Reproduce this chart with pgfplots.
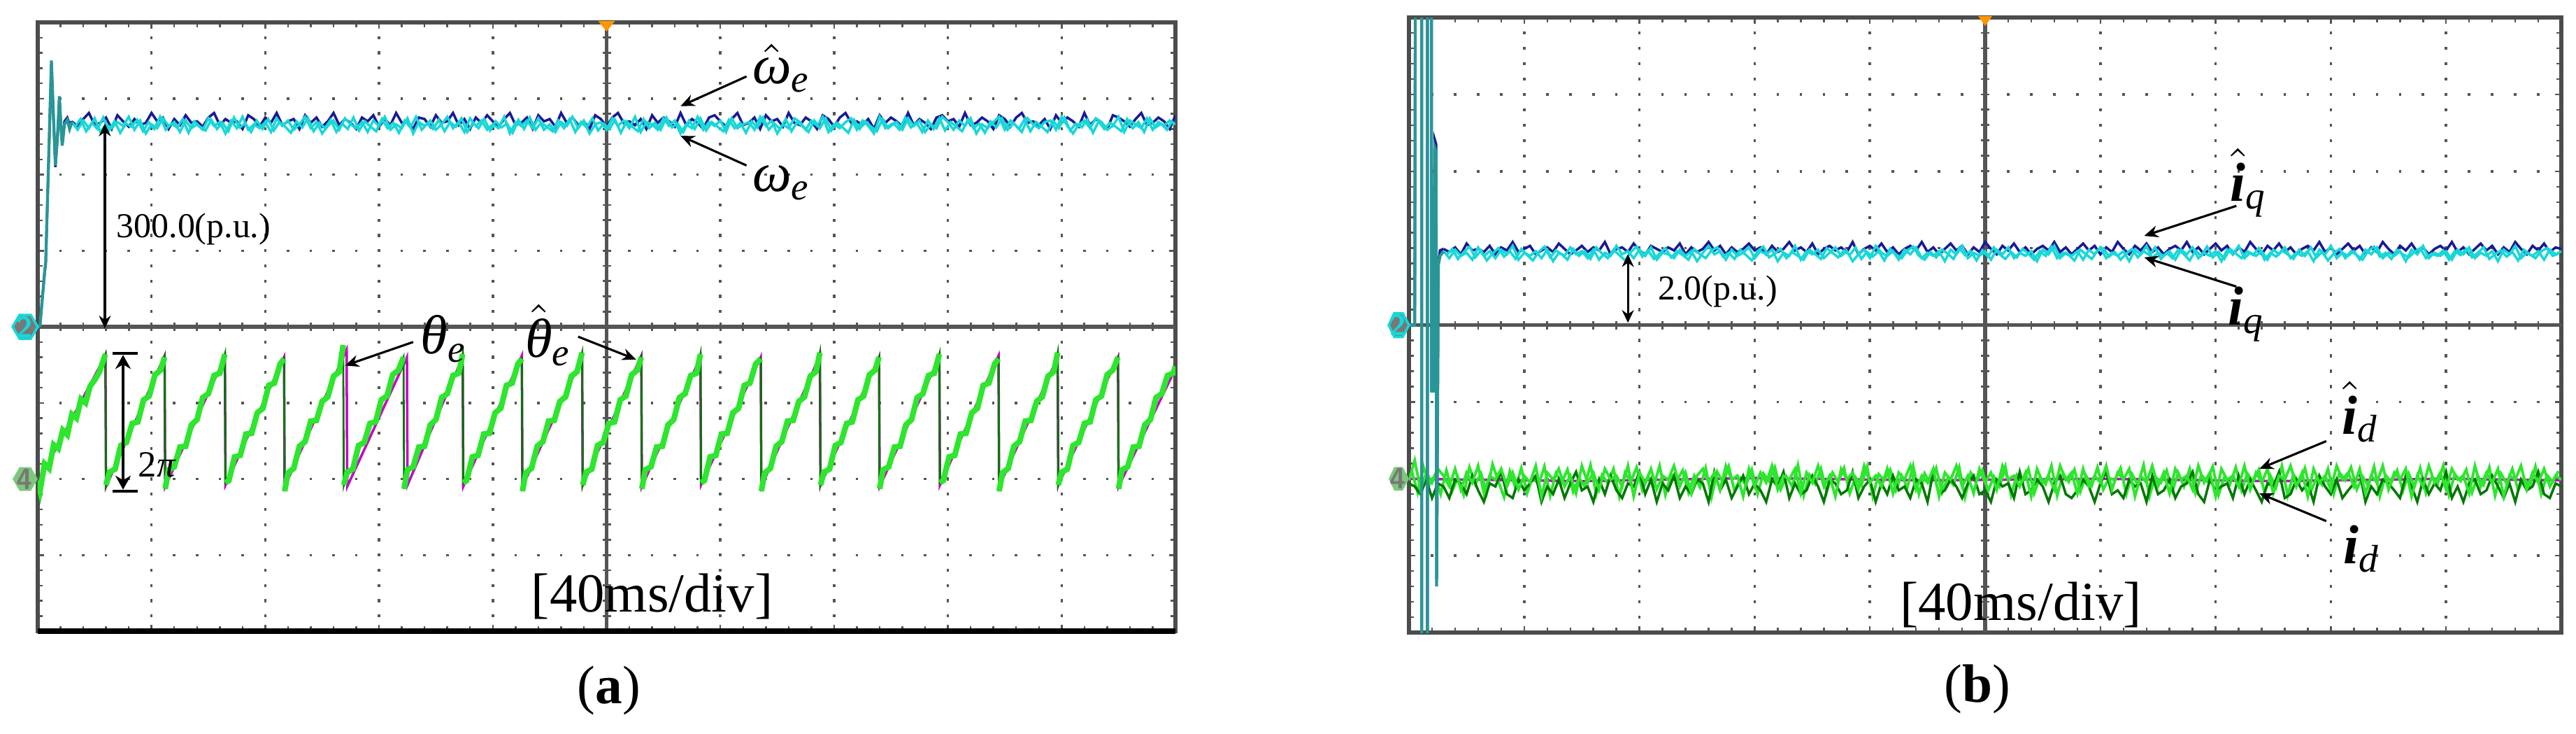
\documentclass[border=0pt]{standalone}
\usepackage{amsmath}
\usepackage{fontspec}
\setmainfont{Liberation Serif}
\usepackage{pgfplots}
\usepackage{pgfplotstable}
\pgfplotsset{compat=1.18}
\usetikzlibrary{arrows.meta}

\definecolor{scyan}{RGB}{25,215,215}
\definecolor{snavy}{RGB}{25,25,150}
\definecolor{steal}{RGB}{40,150,150}
\definecolor{sgreen}{RGB}{45,230,45}
\definecolor{sdkgreen}{RGB}{0,120,0}
\definecolor{smag}{RGB}{200,0,200}
\definecolor{sorange}{RGB}{255,150,0}
\definecolor{gridc}{RGB}{85,85,85}
\definecolor{chgray}{RGB}{120,120,120}
\definecolor{chgreen}{RGB}{125,200,125}

\newcommand{\ti}[1]{\text{\itshape #1}}
\newcommand{\tbi}[1]{\text{\bfseries\itshape #1}}

% scope traces in divisions (x: 0..10, y: -4..4)
\pgfplotstableread{
x w wb iq iqb id idd
0.00 nan nan nan nan -2.02 -2.06
0.05 nan nan nan nan -1.76 -2.10
0.10 nan nan nan nan -2.14 -2.20
0.15 nan nan nan nan -1.92 -2.01
0.20 nan nan nan nan -2.05 -2.25
0.25 nan nan nan nan -1.87 -2.06
0.30 2.69 2.70 0.96 0.99 -1.96 -2.10
0.35 2.59 2.63 0.87 0.95 -2.10 -2.25
0.40 2.71 2.73 0.98 1.01 -1.87 -2.01
0.45 2.61 2.81 0.90 0.92 -2.14 -2.06
0.50 2.74 2.65 0.94 1.06 -1.92 -2.20
0.55 2.56 2.68 0.85 0.97 -2.05 -1.96
0.60 2.66 2.75 1.01 0.99 -1.83 -2.15
0.65 2.61 2.60 0.90 0.95 -2.19 -2.30
0.70 2.69 2.78 0.96 1.03 -1.96 -2.06
0.75 2.64 2.70 0.87 0.92 -2.01 -2.10
0.80 2.76 2.63 0.98 1.01 -1.87 -1.91
0.85 2.59 2.73 0.92 0.97 -2.10 -2.20
0.90 2.71 2.65 1.03 1.08 -1.92 -2.25
0.95 2.54 2.68 0.85 0.95 -2.14 -2.01
1.00 2.66 2.81 0.94 0.99 -1.96 -2.15
1.05 2.61 2.70 0.90 1.03 -2.05 -2.06
1.10 2.74 2.75 0.96 0.92 -1.83 -1.96
1.15 2.64 2.60 0.87 0.97 -2.23 -2.30
1.20 2.69 2.73 0.98 1.01 -1.92 -2.10
1.25 2.56 2.65 0.83 0.95 -2.01 -2.20
1.30 2.71 2.78 0.94 1.06 -1.87 -2.01
1.35 2.61 2.68 0.90 0.99 -2.10 -2.25
1.40 2.66 2.70 1.01 0.92 -1.96 -2.06
1.45 2.59 2.63 0.92 0.97 -2.19 -1.91
1.50 2.74 2.75 0.96 1.03 -1.83 -2.15
1.55 2.64 2.81 0.87 0.95 -2.05 -2.10
1.60 2.69 2.65 0.98 1.01 -1.92 -2.30
1.65 2.54 2.73 0.85 0.97 -2.14 -2.01
1.70 2.71 2.68 0.94 1.08 -1.87 -2.20
1.75 2.61 2.70 0.90 0.92 -2.01 -1.96
1.80 2.76 2.60 1.03 0.99 -1.96 -2.15
1.85 2.59 2.78 0.92 1.01 -2.10 -2.25
1.90 2.66 2.73 0.96 0.95 -1.83 -2.06
1.95 2.61 2.63 0.87 1.06 -2.23 -2.10
2.00 2.69 2.75 0.98 0.97 -1.92 -1.91
2.05 2.56 2.68 0.90 0.92 -2.05 -2.20
2.10 2.74 2.81 1.01 1.03 -1.87 -2.01
2.15 2.64 2.65 0.85 0.99 -2.14 -2.30
2.20 2.71 2.70 0.94 0.95 -1.96 -2.06
2.25 2.59 2.73 0.92 1.01 -2.01 -2.15
2.30 2.66 2.60 0.87 0.97 -1.83 -1.96
2.35 2.76 2.78 0.98 1.06 -2.10 -2.25
2.40 2.61 2.68 0.90 0.92 -1.92 -2.10
2.45 2.69 2.75 0.96 1.01 -2.19 -2.20
2.50 2.54 2.63 0.83 0.95 -1.96 -2.01
2.55 2.64 2.70 0.94 0.99 -1.87 -2.06
2.60 2.71 2.81 1.03 1.08 -2.05 -2.30
2.65 2.59 2.65 0.92 0.97 -1.92 -1.91
2.70 2.74 2.73 0.96 1.03 -2.14 -2.15
2.75 2.66 2.68 0.85 0.92 -1.83 -2.01
2.80 2.61 2.60 0.98 1.01 -2.01 -2.25
2.85 2.69 2.75 0.90 0.95 -1.96 -2.10
2.90 2.56 2.70 0.94 0.99 -2.23 -1.96
2.95 2.71 2.78 1.01 1.06 -1.87 -2.20
3.00 2.64 2.63 0.87 0.97 -2.10 -2.06
3.05 2.76 2.73 0.96 1.01 -1.92 -2.15
3.10 2.59 2.65 0.92 0.92 -2.05 -2.30
3.15 2.66 2.81 0.98 1.03 -1.83 -2.01
3.20 2.61 2.68 0.83 0.95 -2.14 -2.10
3.25 2.74 2.70 0.94 0.99 -1.96 -1.91
3.30 2.54 2.60 0.90 1.08 -2.01 -2.25
3.35 2.69 2.75 1.03 0.97 -1.87 -2.06
3.40 2.64 2.73 0.85 1.01 -2.19 -2.20
3.45 2.71 2.63 0.96 0.95 -1.92 -2.15
3.50 2.59 2.78 0.92 1.06 -2.05 -1.96
3.55 2.66 2.68 0.98 0.92 -1.83 -2.10
3.60 2.76 2.70 0.87 0.99 -2.10 -2.30
3.65 2.61 2.81 0.94 1.03 -1.96 -2.01
3.70 2.69 2.65 1.01 0.97 -2.23 -2.06
3.75 2.56 2.73 0.90 1.01 -1.87 -2.20
3.80 2.74 2.60 0.96 0.95 -2.01 -2.15
3.85 2.64 2.75 0.83 1.08 -1.92 -1.91
3.90 2.71 2.68 0.92 0.92 -2.14 -2.25
3.95 2.59 2.78 0.98 0.99 -1.83 -2.10
4.00 2.66 2.70 0.87 1.03 -2.05 -2.01
4.05 2.61 2.63 1.03 0.97 -1.96 -2.30
4.10 2.76 2.73 0.94 1.06 -2.10 -2.06
4.15 2.54 2.81 0.90 0.95 -1.87 -2.20
4.20 2.69 2.65 0.96 1.01 -2.19 -1.96
4.25 2.64 2.68 0.85 0.92 -1.92 -2.15
4.30 2.71 2.75 0.98 0.99 -2.01 -2.10
4.35 2.61 2.60 0.92 1.03 -1.83 -2.25
4.40 2.74 2.78 1.01 0.97 -2.14 -2.01
4.45 2.59 2.70 0.87 1.08 -1.96 -2.06
4.50 2.66 2.73 0.94 0.95 -2.05 -2.30
4.55 2.56 2.63 0.90 1.01 -1.87 -1.91
4.60 2.69 2.81 0.96 0.92 -2.23 -2.20
4.65 2.64 2.68 0.83 0.99 -1.92 -2.15
4.70 2.76 2.75 0.98 1.06 -2.01 -2.01
4.75 2.61 2.65 0.92 0.97 -1.83 -2.10
4.80 2.71 2.70 1.03 1.03 -2.10 -2.25
4.85 2.54 2.60 0.87 0.92 -1.96 -2.06
4.90 2.66 2.78 0.94 1.01 -2.19 -1.96
4.95 2.69 2.73 0.90 0.95 -1.87 -2.20
5.00 2.59 2.63 0.96 1.08 -2.05 -2.15
5.05 2.74 2.75 0.85 0.99 -1.92 -2.30
5.10 2.64 2.81 0.98 0.92 -2.14 -2.01
5.15 2.71 2.68 0.92 1.03 -1.83 -2.10
5.20 2.61 2.70 1.01 0.97 -2.01 -2.06
5.25 2.76 2.65 0.87 1.06 -1.96 -2.25
5.30 2.56 2.73 0.94 0.95 -2.10 -1.91
5.35 2.69 2.60 0.90 1.01 -1.92 -2.20
5.40 2.66 2.78 0.96 0.92 -2.23 -2.15
5.45 2.59 2.68 0.83 0.99 -1.87 -2.01
5.50 2.74 2.75 0.98 1.03 -2.05 -2.10
5.55 2.64 2.70 0.92 0.97 -1.96 -2.30
5.60 2.71 2.63 1.03 1.08 -2.14 -2.06
5.65 2.54 2.81 0.87 0.95 -1.83 -1.96
5.70 2.66 2.65 0.94 1.01 -2.01 -2.20
5.75 2.61 2.73 0.90 0.92 -1.92 -2.25
5.80 2.76 2.68 0.96 0.99 -2.19 -2.15
5.85 2.59 2.60 0.85 1.06 -1.87 -2.01
5.90 2.69 2.75 0.98 0.97 -2.10 -2.10
5.95 2.64 2.78 0.92 1.03 -1.96 -2.30
6.00 2.71 2.70 1.01 0.92 -2.05 -2.06
6.05 2.56 2.63 0.87 1.01 -1.83 -1.91
6.10 2.74 2.73 0.94 0.95 -2.14 -2.20
6.15 2.61 2.81 0.90 1.08 -1.92 -2.15
6.20 2.66 2.65 0.96 0.99 -2.01 -2.25
6.25 2.69 2.68 0.83 0.92 -1.87 -2.01
6.30 2.59 2.75 0.98 1.03 -2.23 -2.10
6.35 2.76 2.60 0.92 0.97 -1.96 -2.06
6.40 2.64 2.78 1.03 1.06 -2.05 -2.30
6.45 2.71 2.70 0.87 0.95 -1.83 -1.96
6.50 2.54 2.73 0.94 1.01 -2.10 -2.20
6.55 2.66 2.63 0.90 0.92 -1.92 -2.15
6.60 2.61 2.81 0.96 0.99 -2.19 -2.01
6.65 2.74 2.68 0.85 1.03 -1.87 -2.25
6.70 2.69 2.65 0.98 0.97 -2.01 -2.10
6.75 2.59 2.75 0.92 1.08 -1.96 -2.06
6.80 2.71 2.70 1.01 0.95 -2.14 -1.91
6.85 2.64 2.60 0.87 1.01 -1.83 -2.20
6.90 2.76 2.78 0.94 0.92 -2.05 -2.30
6.95 2.56 2.73 0.90 0.99 -1.92 -2.01
7.00 2.66 2.63 0.96 1.06 -2.23 -2.15
7.05 2.61 2.75 0.83 0.97 -1.87 -2.10
7.10 2.69 2.81 0.98 1.03 -2.01 -2.06
7.15 2.74 2.68 0.92 0.92 -1.96 -2.25
7.20 2.59 2.70 1.03 1.01 -2.10 -1.96
7.25 2.71 2.65 0.87 0.95 -1.83 -2.20
7.30 2.64 2.73 0.94 1.08 -2.14 -2.01
7.35 2.54 2.60 0.90 0.99 -1.92 -2.15
7.40 2.76 2.78 0.96 0.92 -2.05 -2.30
7.45 2.61 2.68 0.85 1.03 -1.87 -2.06
7.50 2.66 2.75 0.98 0.97 -2.19 -2.10
7.55 2.69 2.70 0.92 1.06 -1.96 -1.91
7.60 2.59 2.63 1.01 0.95 -2.01 -2.25
7.65 2.74 2.81 0.87 1.01 -1.83 -2.20
7.70 2.64 2.65 0.94 0.92 -2.10 -2.01
7.75 2.71 2.73 0.90 0.99 -1.92 -2.15
7.80 2.56 2.68 0.96 1.03 -2.23 -2.06
7.85 2.66 2.60 0.83 0.97 -1.87 -2.30
7.90 2.61 2.75 0.98 1.08 -2.05 -1.96
7.95 2.76 2.78 0.92 0.95 -1.96 -2.10
8.00 2.69 2.70 1.03 1.01 -2.14 -2.20
8.05 2.59 2.73 0.87 0.92 -1.83 -2.01
8.10 2.71 2.63 0.94 0.99 -2.01 -2.25
8.15 2.64 2.81 0.90 1.06 -1.92 -2.15
8.20 2.74 2.65 0.96 0.97 -2.10 -2.06
8.25 2.54 2.68 0.85 1.03 -1.87 -1.91
8.30 2.66 2.75 0.98 0.92 -2.19 -2.30
8.35 2.61 2.70 0.92 1.01 -1.96 -2.10
8.40 2.69 2.60 1.01 0.95 -2.05 -2.20
8.45 2.76 2.78 0.87 1.08 -1.83 -2.01
8.50 2.59 2.73 0.94 0.99 -2.14 -2.06
8.55 2.71 2.63 0.90 0.92 -1.92 -2.15
8.60 2.64 2.75 0.96 1.03 -2.01 -2.25
8.65 2.56 2.81 0.83 0.97 -1.87 -1.96
8.70 2.74 2.68 0.98 1.06 -2.23 -2.10
8.75 2.66 2.70 0.92 0.95 -1.96 -2.30
8.80 2.61 2.65 1.03 1.01 -2.10 -2.01
8.85 2.69 2.73 0.87 0.92 -1.83 -2.20
8.90 2.71 2.60 0.94 0.99 -2.05 -2.06
8.95 2.59 2.78 0.90 1.03 -1.92 -2.15
9.00 2.76 2.68 0.96 0.97 -2.14 -1.91
9.05 2.64 2.75 0.85 1.08 -1.87 -2.25
9.10 2.54 2.70 0.98 0.95 -2.01 -2.10
9.15 2.66 2.63 0.92 1.01 -1.96 -2.30
9.20 2.71 2.81 1.01 0.92 -2.19 -2.06
9.25 2.61 2.65 0.87 0.99 -1.83 -2.01
9.30 2.74 2.73 0.94 1.06 -2.10 -2.20
9.35 2.69 2.68 0.90 0.97 -1.92 -2.15
9.40 2.59 2.60 0.96 1.03 -2.05 -1.96
9.45 2.64 2.78 0.83 0.92 -1.87 -2.10
9.50 2.76 2.75 0.98 1.01 -2.23 -2.25
9.55 2.56 2.70 0.92 0.95 -1.96 -2.06
9.60 2.71 2.63 1.03 1.08 -2.01 -2.30
9.65 2.66 2.73 0.87 0.99 -1.83 -2.01
9.70 2.61 2.81 0.94 0.92 -2.14 -2.15
9.75 2.74 2.65 0.90 1.03 -1.92 -2.10
9.80 2.59 2.68 0.96 0.97 -2.05 -1.91
9.85 2.69 2.75 0.85 1.06 -1.87 -2.20
9.90 2.64 2.70 0.98 0.95 -2.10 -2.25
9.95 2.71 2.60 0.92 1.01 -1.96 -2.06
10.00 2.66 2.78 0.96 0.99 -2.01 -2.10
}\noise

% second pass of the same traces, sampled in between
\pgfplotstableread{
x w iq id
0.025 nan nan -1.90
0.075 nan nan -2.18
0.125 nan nan -1.84
0.175 nan nan -2.08
0.225 nan nan -1.95
0.275 nan nan -2.20
0.325 2.62 0.91 -1.89
0.375 2.73 0.99 -2.16
0.425 2.57 0.86 -1.98
0.475 2.68 0.95 -2.21
0.525 2.60 1.02 -1.85
0.575 2.75 0.88 -2.07
0.625 2.58 0.97 -1.93
0.675 2.70 0.84 -2.18
0.725 2.55 0.93 -1.81
0.775 2.67 1.00 -2.03
0.825 2.63 0.89 -2.24
0.875 2.72 0.96 -1.90
0.925 2.57 0.86 -2.12
0.975 2.69 0.99 -1.86
1.025 2.60 0.91 -2.19
1.075 2.76 0.84 -1.97
1.125 2.59 0.95 -2.08
1.175 2.67 1.02 -1.84
1.225 2.62 0.88 -2.22
1.275 2.73 0.97 -1.93
1.325 2.55 0.92 -2.05
1.375 2.70 0.85 -1.88
1.425 2.63 0.99 -2.17
1.475 2.58 0.90 -1.99
1.525 2.72 0.96 -2.10
1.575 2.60 0.86 -1.82
1.625 2.68 1.01 -2.20
1.675 2.57 0.93 -1.95
1.725 2.75 0.87 -2.06
1.775 2.62 0.98 -1.87
1.825 2.67 0.91 -2.23
1.875 2.56 0.84 -1.92
1.925 2.71 0.95 -2.04
1.975 2.60 1.02 -1.85
2.025 2.73 0.89 -2.15
2.075 2.58 0.97 -1.97
2.125 2.69 0.86 -2.09
2.175 2.63 0.93 -1.83
2.225 2.55 1.00 -2.21
2.275 2.70 0.88 -1.94
2.325 2.62 0.96 -2.02
2.375 2.74 0.91 -1.89
2.425 2.57 0.85 -2.18
2.475 2.68 0.99 -1.96
2.525 2.61 0.92 -2.11
2.575 2.72 0.87 -1.86
2.625 2.56 0.97 -2.24
2.675 2.67 1.01 -1.91
2.725 2.60 0.89 -2.05
2.775 2.75 0.94 -1.84
2.825 2.58 0.86 -2.16
2.875 2.70 0.98 -1.99
2.925 2.63 0.91 -2.08
2.975 2.57 0.84 -1.88
3.025 2.73 0.96 -2.20
3.075 2.61 1.02 -1.93
3.125 2.68 0.88 -2.03
3.175 2.55 0.93 -1.85
3.225 2.71 0.99 -2.14
3.275 2.62 0.87 -1.97
3.325 2.76 0.95 -2.10
3.375 2.59 0.90 -1.82
3.425 2.67 0.85 -2.22
3.475 2.60 0.98 -1.95
3.525 2.72 0.92 -2.07
3.575 2.57 0.86 -1.87
3.625 2.69 1.00 -2.17
3.675 2.63 0.94 -1.92
3.725 2.74 0.88 -2.04
3.775 2.56 0.97 -1.86
3.825 2.68 0.91 -2.19
3.875 2.61 1.01 -1.98
3.925 2.73 0.86 -2.09
3.975 2.58 0.95 -1.84
4.025 2.70 0.89 -2.23
4.075 2.62 0.96 -1.94
4.125 2.67 0.84 -2.02
4.175 2.55 0.99 -1.88
4.225 2.72 0.92 -2.15
4.275 2.60 0.87 -1.96
4.325 2.75 0.97 -2.11
4.375 2.59 1.02 -1.83
4.425 2.68 0.90 -2.20
4.475 2.63 0.85 -1.93
4.525 2.57 0.95 -2.06
4.575 2.71 0.88 -1.86
4.625 2.61 0.98 -2.18
4.675 2.73 0.93 -1.99
4.725 2.56 0.86 -2.08
4.775 2.69 1.00 -1.85
4.825 2.62 0.91 -2.24
4.875 2.74 0.96 -1.92
4.925 2.58 0.84 -2.03
4.975 2.67 0.97 -1.89
5.025 2.60 0.89 -2.16
5.075 2.72 1.01 -1.97
5.125 2.55 0.92 -2.10
5.175 2.70 0.86 -1.84
5.225 2.63 0.95 -2.21
5.275 2.57 0.88 -1.95
5.325 2.73 0.99 -2.05
5.375 2.61 0.93 -1.87
5.425 2.68 0.85 -2.19
5.475 2.59 0.96 -1.98
5.525 2.75 0.90 -2.07
5.575 2.62 1.02 -1.83
5.625 2.67 0.87 -2.22
5.675 2.56 0.94 -1.93
5.725 2.71 0.91 -2.04
5.775 2.60 0.84 -1.88
5.825 2.74 0.98 -2.17
5.875 2.58 0.92 -1.96
5.925 2.69 0.86 -2.09
5.975 2.63 0.97 -1.85
6.025 2.57 1.00 -2.14
6.075 2.72 0.89 -1.99
6.125 2.61 0.95 -2.02
6.175 2.68 0.85 -1.86
6.225 2.55 0.93 -2.20
6.275 2.70 0.99 -1.94
6.325 2.62 0.88 -2.08
6.375 2.75 0.96 -1.82
6.425 2.59 0.91 -2.23
6.475 2.67 1.01 -1.97
6.525 2.60 0.86 -2.05
6.575 2.73 0.94 -1.89
6.625 2.57 0.87 -2.16
6.675 2.69 0.98 -1.92
6.725 2.63 0.92 -2.10
6.775 2.56 0.84 -1.87
6.825 2.71 0.97 -2.19
6.875 2.61 0.90 -1.95
6.925 2.74 1.02 -2.03
6.975 2.58 0.88 -1.84
7.025 2.68 0.95 -2.21
7.075 2.62 0.86 -1.98
7.125 2.55 0.99 -2.07
7.175 2.72 0.93 -1.85
7.225 2.60 0.87 -2.15
7.275 2.70 0.96 -1.93
7.325 2.63 0.91 -2.04
7.375 2.57 1.00 -1.88
7.425 2.73 0.85 -2.18
7.475 2.61 0.94 -1.96
7.525 2.67 0.89 -2.11
7.575 2.59 0.97 -1.83
7.625 2.75 0.92 -2.22
7.675 2.62 0.86 -1.94
7.725 2.68 0.98 -2.06
7.775 2.56 0.90 -1.86
7.825 2.71 1.01 -2.17
7.875 2.60 0.88 -1.99
7.925 2.74 0.95 -2.08
7.975 2.58 0.84 -1.87
8.025 2.69 0.93 -2.20
8.075 2.63 0.99 -1.92
8.125 2.57 0.87 -2.02
8.175 2.72 0.96 -1.85
8.225 2.61 0.91 -2.14
8.275 2.67 0.85 -1.97
8.325 2.55 0.97 -2.09
8.375 2.70 1.02 -1.84
8.425 2.62 0.89 -2.23
8.475 2.74 0.94 -1.95
8.525 2.59 0.86 -2.05
8.575 2.68 0.98 -1.89
8.625 2.60 0.92 -2.16
8.675 2.73 0.88 -1.93
8.725 2.57 0.95 -2.10
8.775 2.69 1.00 -1.86
8.825 2.63 0.87 -2.19
8.875 2.56 0.93 -1.98
8.925 2.71 0.90 -2.07
8.975 2.61 0.97 -1.83
9.025 2.75 0.85 -2.21
9.075 2.58 0.96 -1.94
9.125 2.67 0.91 -2.03
9.175 2.62 0.99 -1.88
9.225 2.72 0.88 -2.18
9.275 2.55 0.94 -1.96
9.325 2.70 1.01 -2.08
9.375 2.60 0.86 -1.85
9.425 2.68 0.92 -2.22
9.475 2.63 0.97 -1.93
9.525 2.57 0.89 -2.06
9.575 2.73 0.95 -1.87
9.625 2.61 0.84 -2.15
9.675 2.69 0.98 -1.99
9.725 2.56 0.92 -2.10
9.775 2.74 0.87 -1.84
9.825 2.62 0.96 -2.20
9.875 2.67 1.00 -1.95
9.925 2.59 0.90 -2.04
9.975 2.71 0.93 -1.90
}\noiseb

% electrical angle (sawtooth), divisions; nan rows split the ramps
\pgfplotstableread{
x y
0.00 -2.02
0.02 -2.15
0.06 -1.80
0.10 -1.86
0.14 -1.55
0.18 -1.60
0.22 -1.36
0.26 -1.42
0.30 -1.15
0.34 -1.20
0.38 -0.95
0.42 -1.00
0.46 -0.78
0.50 -0.70
0.54 -0.60
0.595 -0.36
0.597 nan
0.60 -2.08
0.63 -1.91
0.68 -1.87
0.73 -1.56
0.78 -1.52
0.83 -1.27
0.88 -1.25
0.93 -0.96
0.98 -0.91
1.03 -0.63
1.08 -0.57
1.115 -0.40
1.117 nan
1.12 -2.13
1.15 -1.88
1.20 -1.84
1.25 -1.58
1.30 -1.57
1.35 -1.29
1.40 -1.22
1.45 -0.93
1.50 -0.88
1.55 -0.64
1.60 -0.61
1.645 -0.36
1.647 nan
1.65 -2.05
1.68 -2.02
1.73 -1.71
1.78 -1.69
1.83 -1.41
1.88 -1.40
1.93 -1.13
1.98 -1.07
2.03 -0.77
2.08 -0.74
2.13 -0.49
2.165 -0.42
2.167 nan
2.17 -2.16
2.20 -1.92
2.25 -1.86
2.30 -1.57
2.35 -1.51
2.40 -1.24
2.45 -1.23
2.50 -0.98
2.55 -0.92
2.60 -0.65
2.65 -0.59
2.685 -0.24
2.687 nan
2.69 -2.08
2.72 -1.91
2.77 -1.87
2.82 -1.56
2.87 -1.52
2.92 -1.27
2.97 -1.25
3.02 -0.96
3.07 -0.91
3.12 -0.63
3.17 -0.57
3.215 -0.40
3.217 nan
3.22 -2.13
3.25 -1.88
3.30 -1.84
3.35 -1.58
3.40 -1.57
3.45 -1.29
3.50 -1.22
3.55 -0.93
3.60 -0.88
3.65 -0.64
3.70 -0.61
3.735 -0.36
3.737 nan
3.74 -2.05
3.77 -2.02
3.82 -1.71
3.87 -1.69
3.92 -1.41
3.97 -1.40
4.02 -1.13
4.07 -1.07
4.12 -0.77
4.17 -0.74
4.22 -0.49
4.255 -0.42
4.257 nan
4.26 -2.16
4.29 -1.92
4.34 -1.86
4.39 -1.57
4.44 -1.51
4.49 -1.24
4.54 -1.23
4.59 -0.98
4.64 -0.92
4.69 -0.65
4.74 -0.59
4.785 -0.34
4.787 nan
4.79 -2.08
4.82 -1.91
4.87 -1.87
4.92 -1.56
4.97 -1.52
5.02 -1.27
5.07 -1.25
5.12 -0.96
5.17 -0.91
5.22 -0.63
5.27 -0.57
5.305 -0.40
5.307 nan
5.31 -2.13
5.34 -1.88
5.39 -1.84
5.44 -1.58
5.49 -1.57
5.54 -1.29
5.59 -1.22
5.64 -0.93
5.69 -0.88
5.74 -0.64
5.79 -0.61
5.825 -0.36
5.827 nan
5.83 -2.05
5.86 -2.02
5.91 -1.71
5.96 -1.69
6.01 -1.41
6.06 -1.40
6.11 -1.13
6.16 -1.07
6.21 -0.77
6.26 -0.74
6.31 -0.49
6.355 -0.42
6.357 nan
6.36 -2.16
6.39 -1.92
6.44 -1.86
6.49 -1.57
6.54 -1.51
6.59 -1.24
6.64 -1.23
6.69 -0.98
6.74 -0.92
6.79 -0.65
6.84 -0.59
6.875 -0.34
6.877 nan
6.88 -2.08
6.91 -1.91
6.96 -1.87
7.01 -1.56
7.06 -1.52
7.11 -1.27
7.16 -1.25
7.21 -0.96
7.26 -0.91
7.31 -0.63
7.36 -0.57
7.395 -0.40
7.397 nan
7.40 -2.13
7.43 -1.88
7.48 -1.84
7.53 -1.58
7.58 -1.57
7.63 -1.29
7.68 -1.22
7.73 -0.93
7.78 -0.88
7.83 -0.64
7.88 -0.61
7.925 -0.36
7.927 nan
7.93 -2.05
7.96 -2.02
8.01 -1.71
8.06 -1.69
8.11 -1.41
8.16 -1.40
8.21 -1.13
8.26 -1.07
8.31 -0.77
8.36 -0.74
8.41 -0.49
8.445 -0.42
8.447 nan
8.45 -2.16
8.48 -1.92
8.53 -1.86
8.58 -1.57
8.63 -1.51
8.68 -1.24
8.73 -1.23
8.78 -0.98
8.83 -0.92
8.88 -0.65
8.93 -0.59
8.965 -0.34
8.967 nan
8.97 -2.08
9.00 -1.91
9.05 -1.87
9.10 -1.56
9.15 -1.52
9.20 -1.27
9.25 -1.25
9.30 -0.96
9.35 -0.91
9.40 -0.63
9.45 -0.57
9.495 -0.40
9.497 nan
9.50 -2.13
9.53 -1.88
9.58 -1.84
9.63 -1.58
9.68 -1.57
9.73 -1.29
9.78 -1.22
9.83 -0.93
9.88 -0.88
9.93 -0.64
9.98 -0.61
10.00 -0.52
}\thetatab

\pgfplotsset{
  osc/.style={
    scale only axis, anchor=south west,
    xmin=0, xmax=10, ymin=-4, ymax=4,
    xtick={0,...,10}, ytick={-4,...,4},
    xticklabels={}, yticklabels={},
    minor x tick num=4, minor y tick num=4,
    tick align=inside, tick pos=both,
    major tick length=0.45mm, minor tick length=0.35mm,
    tick style={gridc, line width=0.35pt},
    grid=major,
    axis line style={black!70, line width=0.8pt},
    clip mode=individual,
  },
}
\tikzset{
  ann/.style={-{Stealth[length=1mm,width=0.85mm]}, line width=0.45pt},
  dbl/.style={{Stealth[length=0.9mm,width=0.85mm]}-{Stealth[length=0.9mm,width=0.85mm]}, line width=0.45pt},
  big/.style={font=\fontsize{11.2}{13}\selectfont, inner sep=0pt},
  small/.style={font=\fontsize{7.1}{8.5}\selectfont, inner sep=0pt},
  chnum/.style={font=\sffamily\bfseries\fontsize{6}{6}\selectfont, inner sep=0pt},
}

\begin{document}
\begin{tikzpicture}
\path[use as bounding box] (0,0) rectangle (184.2mm,52.4mm);

% ---------------- (a) speed and angle ----------------
\begin{axis}[osc, at={(2.7mm,7.3mm)}, width=81.35mm, height=43.5mm,
  x grid style={gridc, line width=0.5pt, dash pattern=on 0.22mm off 0.8675mm, dash phase=0.11mm},
  y grid style={gridc, line width=0.5pt, dash pattern=on 0.18mm off 1.447mm, dash phase=0.09mm}]
\draw[gridc, line width=0.8pt] (axis cs:5,-4) -- (axis cs:5,4);
\draw[gridc, line width=0.8pt] (axis cs:0,0) -- (axis cs:10,0);
\pgfplotsinvokeforeach{0.2,0.4,...,9.8}{\draw[gridc, line width=0.4pt] ([yshift=-0.3mm]axis cs:#1,0) -- ([yshift=0.3mm]axis cs:#1,0);}
\pgfplotsinvokeforeach{-3.8,-3.6,...,3.8}{\draw[gridc, line width=0.4pt] ([xshift=-0.3mm]axis cs:5,#1) -- ([xshift=0.3mm]axis cs:5,#1);}
\draw[black, line width=1.2pt] (axis cs:0,-4) -- (axis cs:10,-4);
\coordinate (a2) at (axis cs:0,0);
\coordinate (a4) at (axis cs:0,-2);
\coordinate (atr) at (axis cs:5,4);

\addplot[smag, line width=0.5pt] coordinates {(0.00,-2.05)(0.595,-0.38)(0.60,-2.10)(1.115,-0.38)(1.12,-2.10)(1.645,-0.40)(1.65,-2.08)(2.165,-0.40)(2.17,-2.10)(2.715,-0.30)(2.72,-2.10)(3.245,-0.40)(3.25,-2.08)(3.735,-0.40)(3.74,-2.10)(4.255,-0.38)(4.26,-2.10)(4.785,-0.40)(4.79,-2.08)(5.305,-0.38)(5.31,-2.10)(5.825,-0.40)(5.83,-2.08)(6.355,-0.40)(6.36,-2.10)(6.875,-0.38)(6.88,-2.08)(7.395,-0.40)(7.40,-2.10)(7.925,-0.40)(7.93,-2.08)(8.445,-0.38)(8.45,-2.10)(8.965,-0.40)(8.97,-2.08)(9.495,-0.40)(9.50,-2.10)(10.00,-0.55)};
\addplot[sdkgreen, line width=0.4pt] table[x=x, y=y] {\thetatab};
\addplot[sgreen, line width=1.15pt, unbounded coords=jump] table[x=x, y=y] {\thetatab};

\addplot[snavy, line width=0.5pt] table[x=x, y=wb] {\noise};
\addplot[snavy, line width=0.5pt] coordinates {(0,0)(0.02,0.02)(0.06,0.70)(0.07,0.82)(0.12,3.45)(0.135,2.85)(0.155,2.10)(0.175,2.50)(0.19,3.00)(0.205,2.60)(0.215,2.40)(0.235,2.70)(0.26,2.75)(0.28,2.66)(0.30,2.70)};
\addplot[scyan, line width=0.5pt] table[x=x, y=w] {\noiseb};
\addplot[scyan, line width=0.5pt] table[x=x, y=w] {\noise};
\addplot[steal, line width=0.6pt] coordinates {(0,0)(0.02,0.02)(0.06,0.72)(0.07,0.85)(0.12,3.50)(0.135,2.90)(0.155,2.12)(0.175,2.55)(0.19,3.03)(0.205,2.62)(0.215,2.38)(0.235,2.66)(0.26,2.72)(0.28,2.60)(0.30,2.69)};

% annotations
\draw[dbl] (axis cs:0.59,-0.02) -- (axis cs:0.59,2.67);
\node[small] at (axis cs:1.37,1.28) {300.0(p.u.)};
\node[big] at (axis cs:6.54,3.40) {$\hat{\ti{ω}}_{\ti{e}}$};
\node[big] at (axis cs:6.54,1.89) {$\ti{ω}_{\ti{e}}$};
\draw[ann] (axis cs:6.23,3.29) -- (axis cs:5.65,2.90);
\draw[ann] (axis cs:6.23,2.12) -- (axis cs:5.65,2.51);
\node[big] at (axis cs:3.57,-0.16) {$\ti{θ}_{\ti{e}}$};
\draw[ann] (axis cs:3.30,-0.20) -- (axis cs:2.70,-0.51);
\node[big] at (axis cs:4.49,-0.11) {$\hat{\ti{θ}}_{\ti{e}}$};
\draw[ann] (axis cs:4.75,-0.13) -- (axis cs:5.26,-0.43);
\draw[{Stealth[length=1mm,width=1.1mm]}-{Stealth[length=1mm,width=1.1mm]}, line width=0.65pt] (axis cs:0.75,-0.37) -- (axis cs:0.75,-2.14);
\draw[line width=0.65pt] (axis cs:0.66,-0.35) -- (axis cs:0.88,-0.35);
\draw[line width=0.65pt] (axis cs:0.66,-2.16) -- (axis cs:0.88,-2.16);
\node[font=\fontsize{7.5}{9}\selectfont, inner sep=0pt] at (axis cs:1.05,-1.81) {2\textit{π}};
\node[big] at (axis cs:5.40,-3.54) {[40ms/div]};
\node[font=\fontsize{11}{13}\selectfont, inner sep=0pt] at (axis cs:5.02,-4.78) {(\textbf{a})};
\end{axis}

% ---------------- (b) currents ----------------
\begin{axis}[osc, at={(100.75mm,7.2mm)}, width=82.4mm, height=43.95mm,
  x grid style={gridc, line width=0.5pt, dash pattern=on 0.22mm off 0.87875mm, dash phase=0.11mm},
  y grid style={gridc, line width=0.5pt, dash pattern=on 0.18mm off 1.468mm, dash phase=0.09mm}]
\draw[gridc, line width=0.8pt] (axis cs:5,-4) -- (axis cs:5,4);
\draw[gridc, line width=0.8pt] (axis cs:0,0) -- (axis cs:10,0);
\pgfplotsinvokeforeach{0.2,0.4,...,9.8}{\draw[gridc, line width=0.4pt] ([yshift=-0.3mm]axis cs:#1,0) -- ([yshift=0.3mm]axis cs:#1,0);}
\pgfplotsinvokeforeach{-3.8,-3.6,...,3.8}{\draw[gridc, line width=0.4pt] ([xshift=-0.3mm]axis cs:5,#1) -- ([xshift=0.3mm]axis cs:5,#1);}
\coordinate (b2) at (axis cs:0,0);
\coordinate (b4) at (axis cs:0,-2);
\coordinate (btr) at (axis cs:5,4);

\addplot[smag, line width=0.5pt] coordinates {(0,-2.00)(1.5,-2.03)(3,-1.99)(4.5,-2.02)(6,-2.00)(7.5,-2.03)(9,-2.00)(10,-2.02)};
\addplot[sgreen, line width=0.55pt] table[x=x, y=id] {\noiseb};
\addplot[sdkgreen, line width=0.5pt] table[x=x, y=idd] {\noise};
\addplot[sgreen, line width=0.55pt] table[x=x, y=id] {\noise};

\addplot[snavy, line width=0.5pt] table[x=x, y=iqb] {\noise};
\addplot[scyan, line width=0.5pt] table[x=x, y=iq] {\noiseb};
\addplot[scyan, line width=0.5pt] table[x=x, y=iq] {\noise};
\addplot[snavy, line width=0.55pt] coordinates {(0,0)(0.05,0)(0.055,4.4)(0.11,4.4)(0.11,-4.4)(0.16,-4.4)(0.16,4.4)(0.195,4.4)(0.195,-0.55)(0.205,-0.65)(0.215,-0.70)(0.225,2.40)(0.235,2.35)(0.24,-3.30)(0.255,0.80)(0.27,0.97)(0.30,0.99)};
\addplot[steal, line width=0.6pt] coordinates {(0,0)(0.05,0)(0.055,4.4)(0.11,4.4)(0.11,-4.4)(0.16,-4.4)(0.16,4.4)(0.195,4.4)(0.195,-0.86)(0.215,-0.86)(0.225,2.30)(0.235,2.25)(0.24,-3.40)(0.255,0.78)(0.27,0.90)(0.30,0.96)};

\draw[dbl] (axis cs:1.90,0.03) -- (axis cs:1.90,0.92);
\node[small] at (axis cs:2.68,0.44) {2.0(p.u.)};
\node[big] at (axis cs:7.29,1.85) {$\hat{\tbi{i}}_{\ti{q}}$};
\node[big] at (axis cs:7.27,0.14) {$\tbi{i}_{\ti{q}}$};
\draw[ann] (axis cs:7.18,1.55) -- (axis cs:6.38,1.16);
\draw[ann] (axis cs:7.18,0.50) -- (axis cs:6.38,0.88);
\node[big] at (axis cs:8.26,-1.13) {$\hat{\tbi{i}}_{\ti{d}}$};
\node[big] at (axis cs:8.27,-2.91) {$\tbi{i}_{\ti{d}}$};
\draw[ann] (axis cs:7.96,-1.51) -- (axis cs:7.38,-1.87);
\draw[ann] (axis cs:7.96,-2.55) -- (axis cs:7.38,-2.19);
\node[big] at (axis cs:5.31,-3.64) {[40ms/div]};
\node[font=\fontsize{11}{13}\selectfont, inner sep=0pt] at (axis cs:4.93,-4.74) {(\textbf{b})};
\end{axis}

% channel markers and trigger marks
\filldraw[fill=chgray, draw=scyan, line width=0.5pt] (a2) -- ++(-0.5mm,0.85mm) -- ++(-0.8mm,0) -- ++(-0.5mm,-0.85mm) -- ++(0.5mm,-0.85mm) -- ++(0.8mm,0) -- cycle;
\node[chnum, text=scyan] at ([xshift=-0.95mm]a2) {2};
\fill[chgreen] (a4) -- ++(-0.5mm,0.85mm) -- ++(-0.8mm,0) -- ++(-0.5mm,-0.85mm) -- ++(0.5mm,-0.85mm) -- ++(0.8mm,0) -- cycle;
\node[chnum, text=chgray] at ([xshift=-0.95mm]a4) {4};
\fill[sorange] (atr) ++(-0.6mm,0.1mm) -- ++(1.2mm,0) -- ++(-0.6mm,-0.75mm) -- cycle;
\filldraw[fill=chgray, draw=scyan, line width=0.5pt] (b2) -- ++(-0.45mm,0.85mm) -- ++(-0.6mm,0) -- ++(-0.4mm,-0.85mm) -- ++(0.4mm,-0.85mm) -- ++(0.6mm,0) -- cycle;
\node[chnum, text=scyan] at ([xshift=-0.8mm]b2) {2};
\fill[chgreen] (b4) -- ++(-0.45mm,0.85mm) -- ++(-0.6mm,0) -- ++(-0.4mm,-0.85mm) -- ++(0.4mm,-0.85mm) -- ++(0.6mm,0) -- cycle;
\node[chnum, text=chgray] at ([xshift=-0.8mm]b4) {4};
\fill[sorange] (btr) ++(-0.5mm,0.1mm) -- ++(1.0mm,0) -- ++(-0.5mm,-0.7mm) -- cycle;
\end{tikzpicture}
\end{document}
